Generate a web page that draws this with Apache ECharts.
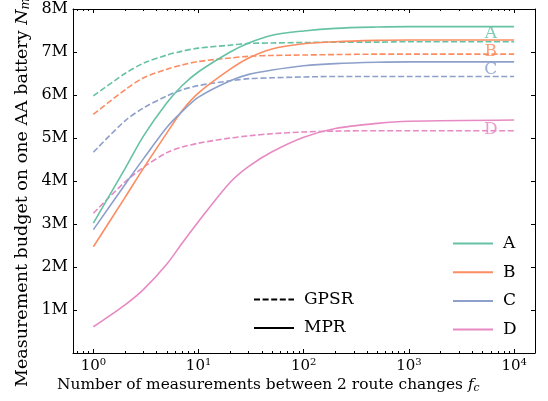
<!DOCTYPE html>
<html><head><meta charset="utf-8">
<script src="https://cdn.jsdelivr.net/npm/echarts@6/dist/echarts.min.js"></script>
<style>html,body{margin:0;padding:0;background:#fff}#c{width:548px;height:401px}</style>
</head><body><div id="c"></div>
<script>
// ---- data (values in millions) ----
const fc = [1, 2, 3, 5, 7, 10, 20, 30, 50, 100, 200, 500, 1000, 10000];
const mprA = [3.02, 4.29, 5.05, 5.82, 6.22, 6.54, 7.00, 7.21, 7.39, 7.49, 7.55, 7.58, 7.59, 7.59];
const mprB = [2.47, 3.62, 4.30, 5.12, 5.64, 6.05, 6.60, 6.86, 7.07, 7.19, 7.24, 7.27, 7.28, 7.28];
const mprC = [2.87, 3.92, 4.52, 5.25, 5.62, 5.95, 6.33, 6.48, 6.58, 6.68, 6.73, 6.76, 6.77, 6.77];
const mprD = [0.61, 1.12, 1.48, 2.07, 2.56, 3.06, 3.97, 4.34, 4.68, 5.02, 5.22, 5.34, 5.39, 5.42];
const gpsrA = [5.98, 6.50, 6.74, 6.93, 7.02, 7.09, 7.16, 7.20, 7.21, 7.22, 7.23, 7.23, 7.24, 7.24];
const gpsrB = [5.55, 6.12, 6.40, 6.60, 6.70, 6.78, 6.86, 6.90, 6.92, 6.93, 6.94, 6.95, 6.95, 6.95];
const gpsrC = [4.67, 5.40, 5.70, 5.98, 6.12, 6.22, 6.33, 6.38, 6.40, 6.42, 6.43, 6.43, 6.43, 6.43];
const gpsrD = [3.25, 3.98, 4.32, 4.66, 4.79, 4.88, 5.00, 5.05, 5.10, 5.14, 5.16, 5.17, 5.17, 5.17];
const groups = ['A', 'B', 'C', 'D'];
const styles = ['GPSR', 'MPR'];
const labelX = 6000;
const labelY = [7.43, 7.00, 6.58, 5.19];
const xMajorTicks = [1, 10, 100, 1000, 10000];
const xMinorTicks = [0.7, 0.8, 0.9, 2, 3, 4, 5, 6, 7, 8, 9, 20, 30, 40, 50, 60, 70, 80, 90,
  200, 300, 400, 500, 600, 700, 800, 900, 2000, 3000, 4000, 5000, 6000, 7000, 8000, 9000];
const yTickLabels = ['', '1M', '2M', '3M', '4M', '5M', '6M', '7M', '8M'];
const xTitle = 'Number of measurements between 2 route changes {i|f}{sub|c}';
const yTitle = 'Measurement budget on one AA battery {i|N}{sub|m}';

const mpr = [mprA, mprB, mprC, mprD];
const gpsr = [gpsrA, gpsrB, gpsrC, gpsrD];
const colors = ['#66c2a5', '#fc8d62', '#8da0cb', '#e78ac3'];
const FONT = 'DejaVu Serif';
const DASH = [6, 2.6];

const series = [];
groups.forEach((g, i) => {
  series.push({
    name: g + ' GPSR', type: 'line', symbol: 'none', smooth: 0.3,
    data: fc.map((x, j) => [x, gpsr[i][j]]),
    lineStyle: { color: colors[i], width: 1.6, type: DASH },
    itemStyle: { color: colors[i] },
    markPoint: {
      symbol: 'rect', symbolSize: 1, itemStyle: { color: 'transparent' },
      label: { show: true, position: 'inside', formatter: g, color: colors[i], opacity: 0.85,
        fontFamily: FONT, fontSize: 17 },
      data: [{ coord: [labelX, labelY[i]] }]
    },
    z: 2
  });
});
groups.forEach((g, i) => {
  series.push({
    name: g, type: 'line', symbol: 'none', smooth: 0.3,
    data: fc.map((x, j) => [x, mpr[i][j]]),
    lineStyle: { color: colors[i], width: 1.6 },
    itemStyle: { color: colors[i] },
    z: 3
  });
});
series.push({ name: 'GPSR', type: 'line', symbol: 'none', data: [],
  lineStyle: { color: '#000', width: 1.6, type: DASH }, itemStyle: { color: '#000' } });
series.push({ name: 'MPR', type: 'line', symbol: 'none', data: [],
  lineStyle: { color: '#000', width: 1.6 }, itemStyle: { color: '#000' } });

const lineCol = { color: '#000', width: 1 };
function xAx(pos, ticks, len, main) {
  return {
    type: 'log', logBase: 10, min: 0.64, max: 15800, position: pos,
    axisLine: { show: main, onZero: false, lineStyle: lineCol },
    axisTick: { show: true, inside: true, length: len, customValues: ticks, lineStyle: lineCol },
    axisLabel: { show: false }, splitLine: { show: false }
  };
}
const xMain = xAx('bottom', xMajorTicks, 4, true);
xMain.axisLabel = {
  show: true, customValues: xMajorTicks, margin: 4, color: '#000',
  fontFamily: FONT, fontSize: 15,
  formatter: v => '10{sup|' + Math.round(Math.log10(v)) + '}',
  rich: { sup: { fontFamily: FONT, fontSize: 10, color: '#000', padding: [0, 0, 9, 0] } }
};

const richTitle = (fs) => ({
  i: { fontFamily: FONT, fontSize: fs, fontStyle: 'italic', fill: '#000', color: '#000' },
  sub: { fontFamily: FONT, fontSize: fs * 0.7, fontStyle: 'italic', fill: '#000', color: '#000', padding: [7, 0, 0, 0] }
});

const legendCommon = { orient: 'vertical', itemWidth: 40, itemHeight: 16, selectedMode: false,
  itemStyle: { color: 'transparent', borderWidth: 0, borderColor: 'transparent' },
  textStyle: { fontFamily: FONT, fontSize: 17, color: '#000', padding: [0, 0, 0, 5] } };

const option = {
  animation: false,
  backgroundColor: '#fff',
  grid: { left: 73, right: 13, top: 9, bottom: 48, containLabel: false },
  legend: [
    Object.assign({ data: styles, left: 248, top: 286, itemGap: 11.4 }, legendCommon),
    Object.assign({ data: groups, left: 447, top: 230, itemGap: 11.7 }, legendCommon)
  ],
  graphic: [
    { type: 'text', x: 57, y: 385, silent: true,
      style: { text: xTitle, fontFamily: FONT, fontSize: 15.4, fill: '#000', align: 'left', verticalAlign: 'middle',
        rich: richTitle(15.4) } },
    { type: 'text', x: 22, y: 387, rotation: Math.PI / 2, silent: true,
      style: { text: yTitle, fontFamily: FONT, fontSize: 17.5, fill: '#000', align: 'left', verticalAlign: 'middle',
        rich: richTitle(17.5) } }
  ],
  xAxis: [xMain, xAx('bottom', xMinorTicks, 2, false), xAx('top', xMajorTicks, 4, true), xAx('top', xMinorTicks, 2, false)],
  yAxis: [
    { type: 'value', min: 0, max: 8, interval: 1, position: 'left',
      axisLine: { show: true, onZero: false, lineStyle: lineCol },
      axisTick: { inside: true, length: 4, lineStyle: lineCol },
      axisLabel: { margin: 5, color: '#000', fontFamily: FONT, fontSize: 16, formatter: v => yTickLabels[Math.round(v)] },
      splitLine: { show: false } },
    { type: 'value', min: 0, max: 8, interval: 1, position: 'right',
      axisLine: { show: true, onZero: false, lineStyle: lineCol },
      axisTick: { inside: true, length: 4, lineStyle: lineCol },
      axisLabel: { show: false }, splitLine: { show: false } }
  ],
  series: series
};
const chart = echarts.init(document.getElementById('c'), null, { renderer: 'canvas' });
chart.setOption(option);
</script></body></html>
